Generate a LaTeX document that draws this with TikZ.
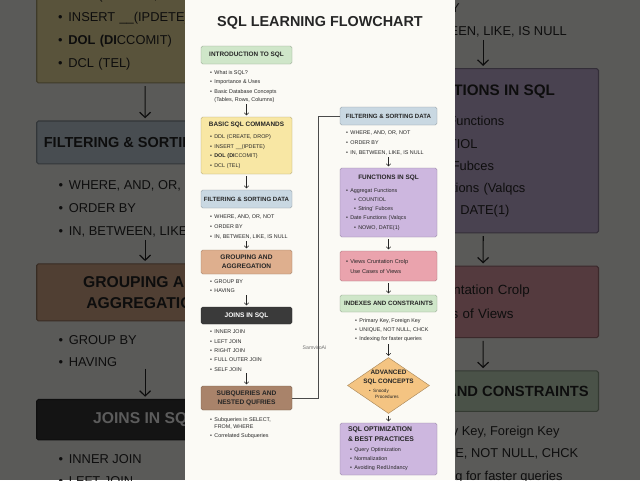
\documentclass[tikz,border=0pt]{standalone}
\usepackage{fontspec}
\setmainfont{Liberation Sans}
\usetikzlibrary{arrows.meta,shapes.geometric}

\definecolor{paper}{HTML}{FBFAF5}
\definecolor{ink}{HTML}{262626}
\definecolor{introgreen}{HTML}{CFE6C9}
\definecolor{cmdyellow}{HTML}{F8E7A4}
\definecolor{filterblue}{HTML}{C9D8E2}
\definecolor{grouptan}{HTML}{DEAF8E}
\definecolor{joindark}{HTML}{3A3A3A}
\definecolor{subbrown}{HTML}{A9836A}
\definecolor{funcpurple}{HTML}{CDB7DF}
\definecolor{viewpink}{HTML}{EAA3AD}
\definecolor{advorange}{HTML}{F4C482}
\definecolor{linegray}{HTML}{4A4A4A}

\newcommand\titlefont{\bfseries\fontsize{14.4}{16}\selectfont}
\newcommand\headfont{\bfseries\fontsize{6.4}{8.8}\selectfont}
\newcommand\listfont{\fontsize{5.4}{9.6}\selectfont}
\newcommand\bl{\textbullet\hspace{2.4pt}}
\newcommand\indt{\phantom{\bl}}
\newcommand\subbl{\hspace*{8pt}\bl}

\def\lwscale{1}
\def\lx{246.5}
\def\rx{388.5}

\tikzset{
  box/.style={draw=#1!70!black, fill=#1, rounded corners=1.6pt,
    line width=0.45pt*\lwscale, minimum width=91pt, minimum height=18pt,
    inner sep=1pt, align=center, font=\headfont, text=ink},
  wbox/.style={box=#1, minimum width=97pt},
  lst/.style={anchor=north west, inner sep=0pt, align=left, font=\listfont, text=ink},
  arr/.style={draw=ink, line width=0.5pt*\lwscale, shorten <=2pt, shorten >=1.5pt,
    -{Straight Barb[length=0pt 4.4,width=0pt 9.2]}},
  conn/.style={draw=linegray, line width=0.55pt*\lwscale},
}

% the whole chart, drawn twice (zoomed backdrop and panel)
\newcommand\drawchart{%
  \fill[paper] (185,0) rectangle (455,480);
  \node[font=\titlefont, text=ink] (title) at (320,23) {SQL LEARNING FLOWCHART};
  % left column
  \node[box=introgreen] (intro) at (\lx,55) {INTRODUCTION TO SQL};
  \node[lst] (introlist) at (210,70)
    {\bl What is SQL?\\ \bl Importance \& Uses\\ \bl Basic Database Concepts\\[-1.8pt]
     \indt(Tables, Rows, Columns)};
  \node[box=cmdyellow, minimum height=57pt, text width=73pt, align=left, font=\listfont] (basic) at (\lx,145.5)
    {\makebox[73pt]{\headfont BASIC SQL COMMANDS}\\[2.4pt]
     \bl DDL (CREATE, DROP)\\ \bl INSERT \_\_(IPDETE)\\ \bl\textbf{DOL (DI}CCOMIT)\\ \bl DCL (TEL)};
  \node[box=filterblue, font=\headfont\fontsize{6.1}{7}\selectfont] (filter) at (\lx,199)
    {FILTERING \& SORTING DATA};
  \node[lst] (filterlist) at (210,215)
    {\bl WHERE, AND, OR, NOT\\ \bl ORDER BY\\ \bl IN, BETWEEN, LIKE, IS NULL};
  \node[box=grouptan, minimum height=24pt, font=\bfseries\fontsize{6.6}{8.8}\selectfont] (group) at (\lx,262)
    {GROUPING AND\\AGGREGATION};
  \node[lst] (grouplist) at (210,280) {\bl GROUP BY\\[-0.6pt] \bl HAVING};
  \node[box=joindark, minimum height=17pt, text=white, font=\bfseries\fontsize{6.6}{8}\selectfont] (joins) at (\lx,315.5)
    {JOINS IN SQL};
  \node[lst] (joinlist) at (210,330)
    {\bl INNER JOIN\\[-0.3pt] \bl LEFT JOIN\\[-0.3pt] \bl RIGHT JOIN\\[-0.3pt] \bl FULL OUTER JOIN\\[-0.3pt] \bl SELF JOIN};
  \node[box=subbrown, minimum height=24pt, font=\bfseries\fontsize{6.6}{8.8}\selectfont] (subq) at (\lx,398)
    {SUBQUERIES AND\\NESTED QUFRIES};
  \node[lst] (subqlist) at (210,417)
    {\bl Subqueries in SELECT,\\[-2.4pt] \indt FROM, WHERE\\ \bl Correlated Subqueries};
  % right column
  \node[wbox=filterblue, font=\headfont\fontsize{6.1}{7}\selectfont] (filterR) at (\rx,116)
    {FILTERING \& SORTING DATA};
  \node[lst] (filterRlist) at (346,131)
    {\bl WHERE, AND, OR, NOT\\ \bl ORDER BY\\ \bl IN, BETWEEN, LIKE, IS NULL};
  \node[wbox=funcpurple, minimum height=69pt, text width=85pt, align=left, font=\listfont] (func) at (\rx,202.5)
    {\makebox[85pt]{\headfont FUNCTIONS IN SQL}\\[3.4pt]
     \bl Aggregat Functions\\[-0.3pt] \subbl COUNTIOL\\[-0.3pt] \subbl String' Fubces\\[-0.3pt]
     \bl Date Functions (Valqcs\\[-0.3pt] \subbl NOWO, DATE(1)};
  \node[wbox=viewpink, minimum height=30pt, text width=85pt, align=left, font=\fontsize{5.6}{10}\selectfont] (views) at (\rx,266)
    {\bl Views Cruntation Crolp\\ \indt Use Cases of Views};
  \node[wbox=introgreen, minimum height=17pt, font=\headfont\fontsize{6.2}{7}\selectfont] (index) at (\rx,303.5)
    {INDEXES AND CONSTRAINTS};
  \node[lst] (indexlist) at (355,318)
    {\bl Primary Key, Foreign Key\\[-0.4pt] \bl UNIQUE, NOT NULL, CHCK\\ \bl Indexing for faster queries};
  \node[diamond, draw=advorange!70!black, fill=advorange, line width=0.45pt*\lwscale,
    minimum width=82pt, minimum height=56pt, inner sep=0pt] (adv) at (\rx,385.5) {};
  \node[font=\bfseries\fontsize{6.4}{9}\selectfont, text=ink, align=center] (advhead) at (\rx,377)
    {ADVANCED\\SQL CONCEPTS};
  \node[lst, font=\fontsize{4.6}{6}\selectfont] (advlist) at (369,388.5)
    {\bl Snoody\\ \indt\hspace{2pt}Procedures};
  \node[wbox=funcpurple, minimum height=52pt, text width=81pt, align=left, font=\listfont] (opt) at (\rx,449)
    {{\bfseries\fontsize{6.8}{10}\selectfont SQL OPTIMIZATION}\\ {\bfseries\fontsize{6.8}{10}\selectfont \& BEST PRACTICES}\\
     \hspace*{2pt}\bl Query Optimization\\[-0.3pt] \hspace*{2pt}\bl Normalization\\[-0.3pt]
     \hspace*{2pt}\bl Avoiding RedUndancy};
  \node[font=\fontsize{5.2}{6}\selectfont, text=gray!90!black] (mark) at (314.5,348) {SamviroAi};
  % connectors
  \draw[arr] (intro |- introlist.south) -- (basic.north);
  \draw[arr] (basic) -- (filter);
  \draw[arr] (filter |- filterlist.south) -- (group.north);
  \draw[arr] (group |- grouplist.south) -- (joins.north);
  \draw[arr] (joins |- joinlist.south) -- (subq.north);
  \draw[conn] (subq.east) -- ++(26,0) |- (filterR.west);
  \draw[arr] (filterR |- filterRlist.south) -- (func.north);
  \draw[arr] (func) -- (views);
  \draw[arr] (views) -- (index);
  \draw[arr] (index |- indexlist.south) -- (adv.north);
  \draw[arr] (adv) -- (opt);
}

\begin{document}
\begin{tikzpicture}[x=1pt, y=-1pt]
  \useasboundingbox (0,0) rectangle (640,480);
  \clip (0,0) rectangle (640,480);
  % zoomed, darkened backdrop, seen only beside the panel
  \begin{scope}
    \clip (0,0) rectangle (185,480) (455,0) rectangle (640,480);
    \begin{scope}[shift={(320,240)}, scale=2.38, shift={(-320,-240)}, transform shape]
      \def\lwscale{2.38}
      \drawchart
    \end{scope}
    \fill[black, opacity=0.64] (0,0) rectangle (640,480);
  \end{scope}
  % the panel itself
  \drawchart
\end{tikzpicture}
\end{document}
